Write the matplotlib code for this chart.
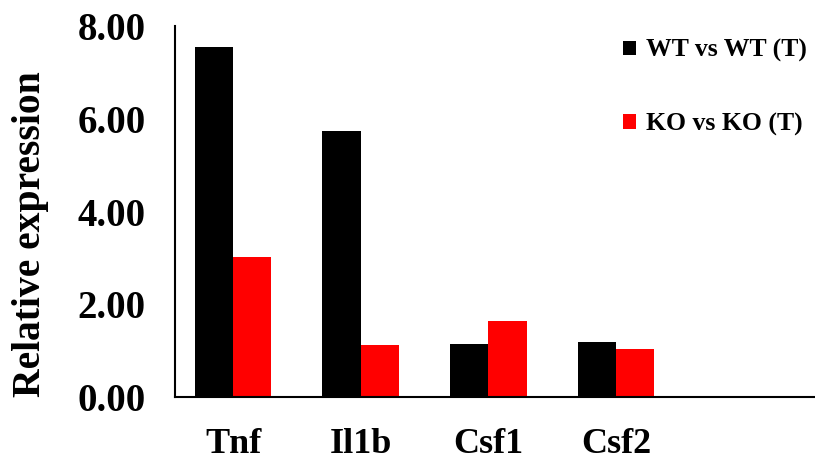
import matplotlib
matplotlib.use('Agg')
import matplotlib.pyplot as plt
import numpy as np

genes = ['Tnf', 'Il1b', 'Csf1', 'Csf2']
wt = [7.55, 5.74, 1.14, 1.18]
ko = [3.01, 1.12, 1.63, 1.03]
labels = ['WT vs WT (T)', 'KO vs KO (T)']

plt.rcParams['font.family'] = ['Liberation Serif', 'DejaVu Serif']
plt.rcParams['font.weight'] = 'bold'

fig = plt.figure(figsize=(8.15, 4.59), dpi=100)
ax = fig.add_axes([0.2147, 0.135, 0.7853, 0.808])

x = np.arange(len(genes))
w = 0.3
ax.bar(x - w / 2, wt, w, color='black', label=labels[0])
ax.bar(x + w / 2, ko, w, color='#ff0000', label=labels[1])

ax.set_xlim(-0.455, 4.56)
ax.set_ylim(0, 8)
ax.set_yticks([0, 2, 4, 6, 8])
ax.set_yticklabels(['%.2f' % v for v in [0, 2, 4, 6, 8]], fontsize=28, fontweight='bold')
ax.set_xticks(x)
ax.set_xticklabels(genes, fontsize=26, fontweight='bold')
ax.tick_params(length=0)
ax.tick_params(axis='y', pad=21)
ax.tick_params(axis='x', pad=22)
ax.set_ylabel('Relative expression', fontsize=28.5, fontweight='bold')
ax.yaxis.set_label_coords(-0.197, 0.44)

for s in ['top', 'right']:
    ax.spines[s].set_visible(False)
for s in ['left', 'bottom']:
    ax.spines[s].set_linewidth(1.5)

ax.legend(loc='upper right', bbox_to_anchor=(1.008, 1.0), frameon=False,
          prop={'family': 'Liberation Serif', 'weight': 'bold', 'size': 18.5},
          handlelength=0.5, handleheight=0.5, handletextpad=0.4,
          labelspacing=1.95, borderaxespad=0.1)

fig.savefig('out.png', dpi=100)
